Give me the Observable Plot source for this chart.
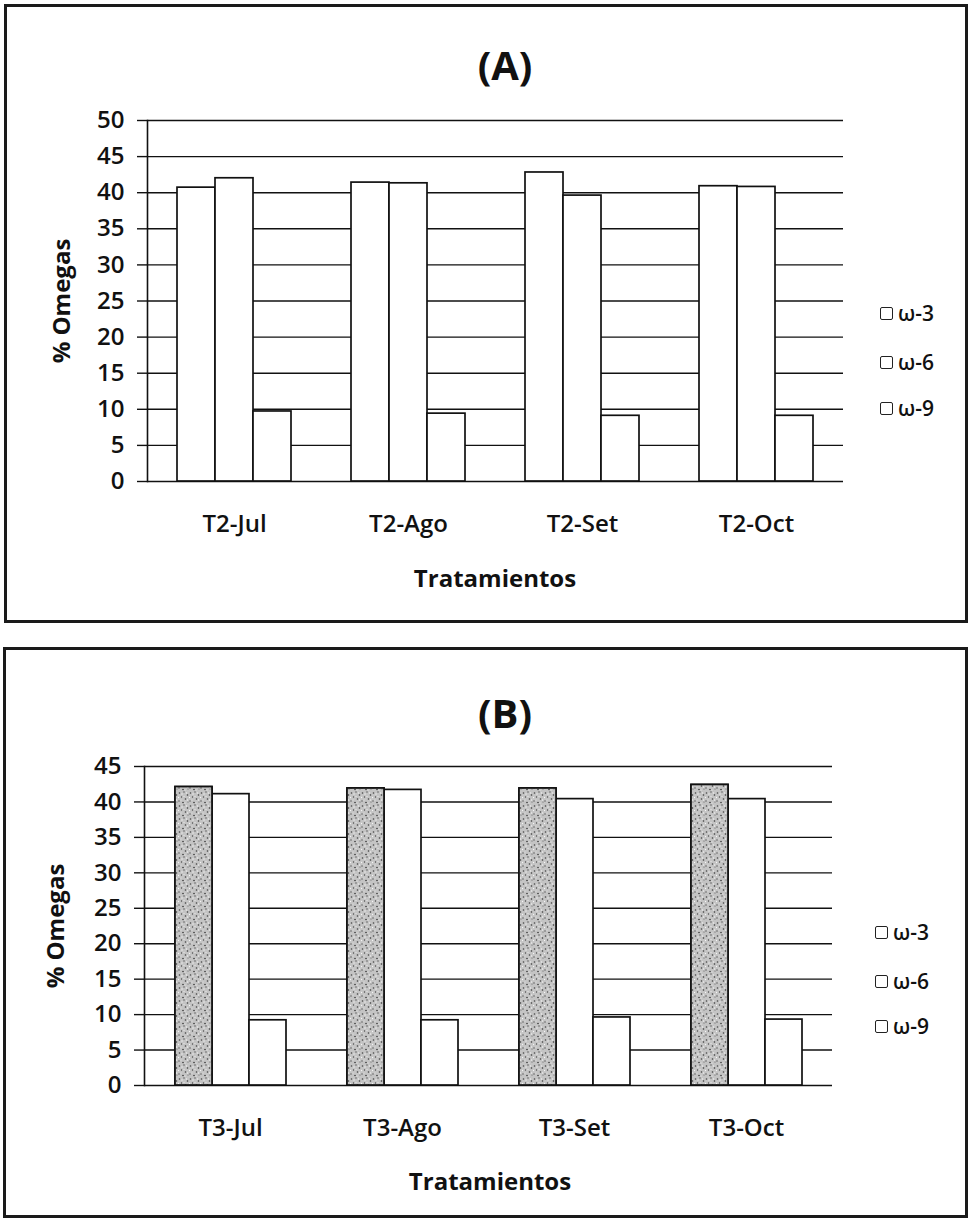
<!DOCTYPE html>
<html>
<head>
<meta charset="utf-8">
<script src="https://cdn.jsdelivr.net/npm/d3@7"></script>
<script src="https://cdn.jsdelivr.net/npm/@observablehq/plot@0.6"></script>
<style>
  html, body { margin: 0; padding: 0; background: #fff; }
  #page { position: relative; width: 970px; height: 1220px; overflow: hidden; font-family: "Open Sans", sans-serif; color: #111; }
  .panel { position: absolute; border: 3px solid #1a1a1a; box-sizing: border-box; }
  .abs { position: absolute; white-space: nowrap; }
  .title { font-size: 40px; font-weight: 700; transform: translate(-50%, -50%); }
  .xtitle { font-size: 24px; font-weight: 700; transform: translate(-50%, -50%); }
  .ytitle { font-size: 24px; font-weight: 700; transform: translate(-50%, -50%) rotate(-90deg); }
  .leg { font-size: 21px; font-weight: 600; display: flex; align-items: center; transform: translateY(-50%); }
  .sw { width: 13px; height: 13px; border: 1.8px solid #222; border-radius: 2px; background: #fff; margin-right: 5px; box-sizing: border-box; }
  .chart { position: absolute; left: 0; }
  .chart text { font-weight: 600; }
</style>
</head>
<body>
<svg width="0" height="0" style="position:absolute">
  <defs>
    <pattern id="stipple" width="11" height="13" patternUnits="userSpaceOnUse">
      <rect width="11" height="13" fill="#c4c4c4"></rect>
      <circle cx="1.5" cy="2" r="0.8" fill="#444"></circle>
      <circle cx="6" cy="1" r="0.7" fill="#4f4f4f"></circle>
      <circle cx="9.5" cy="4" r="0.8" fill="#3a3a3a"></circle>
      <circle cx="3.5" cy="6" r="0.7" fill="#4a4a4a"></circle>
      <circle cx="7.5" cy="8" r="0.8" fill="#404040"></circle>
      <circle cx="1" cy="10" r="0.7" fill="#505050"></circle>
      <circle cx="5" cy="11.5" r="0.8" fill="#363636"></circle>
      <circle cx="10" cy="11" r="0.6" fill="#606060"></circle>
      <circle cx="4" cy="3" r="0.7" fill="#f2f2f2"></circle>
      <circle cx="8.5" cy="2" r="0.7" fill="#eee"></circle>
      <circle cx="0.5" cy="6.5" r="0.7" fill="#f4f4f4"></circle>
      <circle cx="6" cy="5.5" r="0.6" fill="#ececec"></circle>
      <circle cx="9.5" cy="9" r="0.7" fill="#f0f0f0"></circle>
      <circle cx="3" cy="9" r="0.6" fill="#e8e8e8"></circle>
      <circle cx="7" cy="12" r="0.6" fill="#f3f3f3"></circle>
    </pattern>
  </defs>
</svg>
<div id="page"></div>
<script>
// ---- Data ----
const series = ["ω-3", "ω-6", "ω-9"];

const categoriesA = ["T2-Jul", "T2-Ago", "T2-Set", "T2-Oct"];
const omega3A = [40.7, 41.4, 42.8, 40.9];
const omega6A = [42.0, 41.3, 39.6, 40.8];
const omega9A = [9.7, 9.4, 9.1, 9.1];
const yTicksA = [0, 5, 10, 15, 20, 25, 30, 35, 40, 45, 50];

const categoriesB = ["T3-Jul", "T3-Ago", "T3-Set", "T3-Oct"];
const omega3B = [42.1, 41.9, 41.9, 42.4];
const omega6B = [41.1, 41.7, 40.4, 40.4];
const omega9B = [9.2, 9.2, 9.6, 9.3];
const yTicksB = [0, 5, 10, 15, 20, 25, 30, 35, 40, 45];

function table(cats, s3, s6, s9) {
  const cols = [s3, s6, s9];
  return cats.flatMap((c, i) => series.map((s, j) => ({cat: c, series: s, value: cols[j][i]})));
}

const page = document.getElementById("page");

function addDiv(cls, text, left, top, parent = page) {
  const d = document.createElement("div");
  d.className = "abs " + cls;
  d.style.left = left + "px";
  d.style.top = top + "px";
  if (text !== null) d.textContent = text;
  parent.appendChild(d);
  return d;
}

function makeChart({cats, data, ticks, ymax, top, height, mLeft, mRight, mTop, mBottom, stippled}) {
  const marks = [
    Plot.ruleY(ticks, {stroke: "#111", strokeWidth: 1.4}),
    Plot.barY(data, {fx: "cat", x: "series", y: "value", fill: "white", stroke: "#111", strokeWidth: 1.7})
  ];
  if (stippled) {
    marks.push(Plot.barY(data.filter(d => d.series === series[0]),
      {fx: "cat", x: "series", y: "value", fill: "url(#stipple)", stroke: "#111", strokeWidth: 1.7}));
  }
  marks.push(
    Plot.axisY(ticks, {tickSize: 10, tickPadding: 13, label: null, stroke: "#111", strokeWidth: 1.4, fontSize: 24}),
    Plot.frame({anchor: "left", facetAnchor: "left", stroke: "#111", strokeWidth: 1.6})
  );
  const svg = Plot.plot({
    width: 970,
    height,
    marginLeft: mLeft,
    marginRight: mRight,
    marginTop: mTop,
    marginBottom: mBottom,
    style: {fontFamily: "Open Sans", fontSize: "24px", color: "#111", background: "transparent", overflow: "visible"},
    fx: {domain: cats, padding: 0, label: null, tickSize: 0, tickPadding: 33, fontSize: 24},
    x: {domain: series, paddingInner: 0, paddingOuter: 0.77, axis: null},
    y: {domain: [0, ymax], axis: null},
    marks
  });
  svg.classList.add("chart");
  svg.style.position = "absolute";
  svg.style.left = "0px";
  svg.style.top = top + "px";
  page.appendChild(svg);
}

// Panel borders
const pA = addDiv("panel", null, 4, 4); pA.style.width = "964px"; pA.style.height = "619px";
const pB = addDiv("panel", null, 3, 647); pB.style.width = "965px"; pB.style.height = "571px";

// Panel A
makeChart({cats: categoriesA, data: table(categoriesA, omega3A, omega6A, omega9A), ticks: yTicksA, ymax: 50,
  top: 0, height: 600, mLeft: 147, mRight: 127, mTop: 120, mBottom: 119, stippled: false});
addDiv("title", "(A)", 505, 64);
addDiv("xtitle", "Tratamientos", 495, 577);
addDiv("ytitle", "% Omegas", 60, 301);
[["ω-3", 313], ["ω-6", 362], ["ω-9", 408]].forEach(([s, y]) => {
  const d = addDiv("leg", null, 880, y);
  d.innerHTML = '<span class="sw"></span><span>' + s + '</span>';
});

// Panel B
makeChart({cats: categoriesB, data: table(categoriesB, omega3B, omega6B, omega9B), ticks: yTicksB, ymax: 45,
  top: 648, height: 560, mLeft: 142, mRight: 137, mTop: 118, mBottom: 123, stippled: true});
addDiv("title", "(B)", 505, 712);
addDiv("xtitle", "Tratamientos", 490, 1180);
addDiv("ytitle", "% Omegas", 54, 926);
[["ω-3", 932], ["ω-6", 981], ["ω-9", 1026]].forEach(([s, y]) => {
  const d = addDiv("leg", null, 875, y);
  d.innerHTML = '<span class="sw"></span><span>' + s + '</span>';
});
</script>
</body>
</html>
